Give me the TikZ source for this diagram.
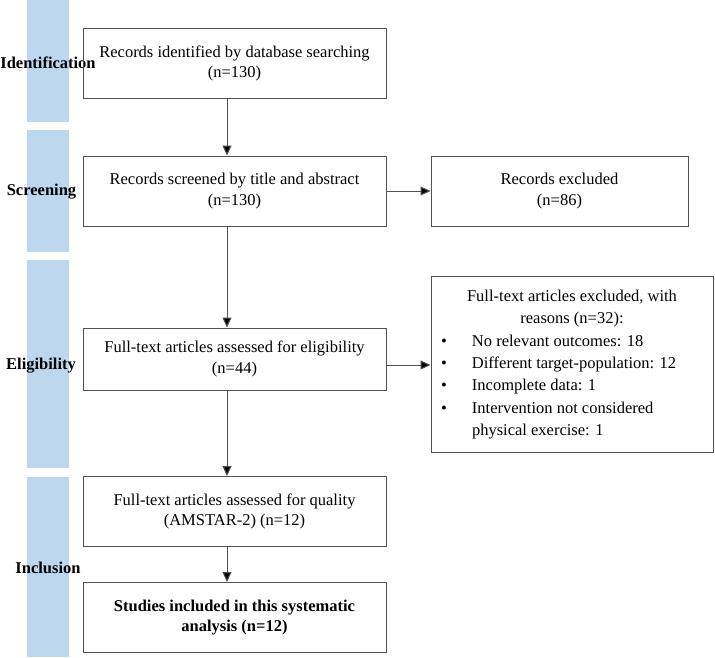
\documentclass[tikz,border=0pt]{standalone}
\usepackage{fontspec}
\setmainfont{Liberation Serif}
\usetikzlibrary{arrows.meta}
\definecolor{barblue}{HTML}{BDD7EE}
\definecolor{linegray}{HTML}{505050}
\tikzset{
  bar/.style={fill=barblue, draw=none},
  stage/.style={font=\fontsize{16.5}{20}\selectfont\bfseries, inner sep=0pt},
  box/.style={draw=linegray, line width=1pt, align=center, inner sep=2pt,
    font=\fontsize{16.5}{20.5}\selectfont},
  arr/.style={draw=linegray, line width=1pt, -{Triangle[length=10pt,width=9pt,fill=black]}},
}
\begin{document}
\begin{tikzpicture}[x=1pt,y=-1pt]
\useasboundingbox (0,0) rectangle (715,657);
% stage bars
\fill[bar] (27,0) rectangle (69,122);
\fill[bar] (27,130) rectangle (69,252);
\fill[bar] (27,260) rectangle (69,468);
\fill[bar] (27,477) rectangle (69,657);
\node[stage] (lid) at (48,63) {Identification};
\node[stage] (lsc) at (41.5,192) {Screening};
\node[stage] (lel) at (41,366) {Eligibility};
\node[stage] (lin) at (48,568) {Inclusion};
% boxes
\node[box, minimum width=303, minimum height=70] (b1) at (234.5,63.5)
  {Records identified by database searching\\(n=130)};
\node[box, minimum width=303, minimum height=70] (b2) at (234.5,191)
  {Records screened by title and abstract\\(n=130)};
\node[box, minimum width=257, minimum height=70] (ex) at (559.5,191)
  {Records excluded\\(n=86)};
\node[box, minimum width=303, minimum height=62] (b3) at (234.5,359)
  {Full-text articles assessed for eligibility\\(n=44)};
\node[box, minimum width=282, minimum height=176, inner sep=0pt,
  font=\fontsize{16.5}{22}\selectfont] (rs) at (572,364)
  {\renewcommand{\arraystretch}{1.02}%
   \begin{tabular}{@{}p{31pt}@{}p{231pt}@{}}
   \multicolumn{2}{c}{Full-text articles excluded, with}\\
   \multicolumn{2}{c}{reasons (n=32):}\\
   \textbullet & No relevant outcomes: 18\\
   \textbullet & Different target-population: 12\\
   \textbullet & Incomplete data: 1\\
   \textbullet & Intervention not considered\\
   & physical exercise: 1
   \end{tabular}};
\node[box, minimum width=303, minimum height=70] (b4) at (234.5,511.5)
  {Full-text articles assessed for quality\\(AMSTAR-2) (n=12)};
\node[box, minimum width=303, minimum height=70, font=\fontsize{16.5}{20.5}\selectfont\bfseries] (b5) at (234.5,617.5)
  {Studies included in this systematic\\analysis (n=12)};
% connectors
\coordinate (ax) at (227,0);
\draw[arr] (b1.south -| ax) -- (b2.north -| ax);
\draw[arr] (b2.south -| ax) -- (b3.north -| ax);
\draw[arr] (b3.south -| ax) -- (b4.north -| ax);
\draw[arr] (b4.south -| ax) -- (b5.north -| ax);
\draw[arr] (b2.east) -- (ex.west);
\coordinate (ay) at (0,365);
\draw[arr] (b3.east |- ay) -- (rs.west |- ay);
\end{tikzpicture}
\end{document}
